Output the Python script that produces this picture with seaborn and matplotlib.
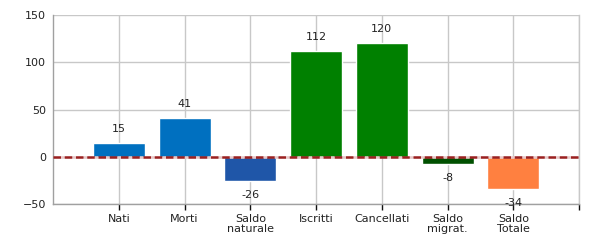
import matplotlib
matplotlib.use("Agg")
import matplotlib.pyplot as plt
import seaborn as sns
import pandas as pd

categories = ["Nati", "Morti", "Saldo\nnaturale", "Iscritti", "Cancellati", "Saldo\nmigrat.", "Saldo\nTotale"]
values = [15, 41, -26, 112, 120, -8, -34]
colors = ["#0070C0", "#0070C0", "#1F56A8", "#008000", "#008000", "#005000", "#FF8040"]
yticks = [-50, 0, 50, 100, 150]

sns.set_style("white")
plt.rcParams['font.family'] = ['DejaVu Sans']

fig = plt.figure(figsize=(6, 2.5), dpi=100)
ax = fig.add_axes([0.0883, 0.184, 0.877, 0.756])

df = pd.DataFrame({"cat": categories, "val": values})
sns.barplot(data=df, x="cat", y="val", hue="cat", palette=colors, legend=False,
            width=0.79, saturation=1, ax=ax, zorder=2)

ax.set_xlim(-1, 7)
ax.set_ylim(-50, 150)
ax.set_yticks(yticks)
ax.set_xticks(list(range(len(categories))) + [7])
ax.set_xticklabels(categories + [""], fontsize=8, color="#222222", linespacing=1.05)
ax.tick_params(axis="y", labelsize=8, labelcolor="#222222", length=4, width=1, color="#111111", pad=1)
ax.tick_params(axis="x", length=4, width=1, color="#111111", pad=3, direction="out", bottom=True)
ax.set_xlabel("")
ax.set_ylabel("")

ax.grid(True, color="#C8C8C8", lw=1, zorder=0)
ax.set_axisbelow(True)
ax.spines["top"].set_visible(False)
for s in ["left", "bottom", "right"]:
    ax.spines[s].set_visible(True)
    ax.spines[s].set_color("#A0A0A0")
    ax.spines[s].set_linewidth(1)
ax.spines["right"].set_color("#C8C8C8")

ax.axhline(0, color="#9B2020", lw=1.8, dashes=(3, 1.5), gapcolor="#E8C8C8", zorder=3)

for i, v in enumerate(values):
    off = 10 if v >= 0 else -10
    ax.annotate(str(v), (i, v), xytext=(0, off), textcoords="offset points",
                ha="center", va="center", fontsize=8, color="#222222", zorder=4)

fig.savefig("out.png", dpi=100)
